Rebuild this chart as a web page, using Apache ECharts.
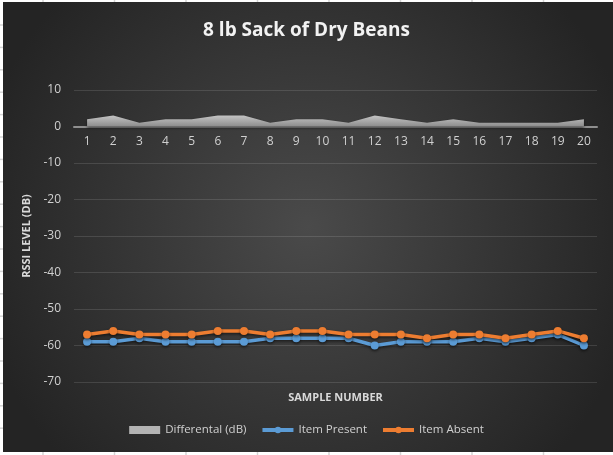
<!DOCTYPE html>
<html>
<head>
<meta charset="utf-8">
<script src="https://cdn.jsdelivr.net/npm/echarts@6/dist/echarts.min.js"></script>
<style>
  html, body { margin: 0; padding: 0; background: #ffffff; }
  #chart { width: 613px; height: 455px; }
</style>
</head>
<body>
<div id="chart"></div>
<script>
// Sample numbers along the x axis
const samples = ['1','2','3','4','5','6','7','8','9','10','11','12','13','14','15','16','17','18','19','20'];
// RSSI readings (dB) with the item present / absent
const itemPresent = [-59,-59,-58,-59,-59,-59,-59,-58,-58,-58,-58,-60,-59,-59,-59,-58,-59,-58,-57,-60];
const itemAbsent  = [-57,-56,-57,-57,-57,-56,-56,-57,-56,-56,-57,-57,-57,-58,-57,-57,-58,-57,-56,-58];
// Difference between the two readings (dB)
const differential = [2,3,1,2,2,3,3,1,2,2,1,3,2,1,2,1,1,1,1,2];
// Value axis ticks
const yMin = -70, yMax = 10, yStep = 10;

const FONT = '"Open Sans", "Liberation Sans", sans-serif';
const W = 613, H = 455;
const GRID_TOP = 90, GRID_BOTTOM = 73;
const plotH = H - GRID_TOP - GRID_BOTTOM;
// distance from the bottom of the plot up to the zero line
const zeroLift = plotH * (0 - yMin) / (yMax - yMin);

// spreadsheet cell borders visible around the chart object
const cellLines = [];
const colX = [43, 114.5, 186, 257.5, 329, 400.5, 472, 543.5];
colX.forEach(x => {
  cellLines.push({ type: 'line', silent: true, shape: { x1: x, y1: 0, x2: x, y2: 2 }, style: { stroke: '#d4d4d4', lineWidth: 1.5 } });
  cellLines.push({ type: 'line', silent: true, shape: { x1: x, y1: 452, x2: x, y2: 455 }, style: { stroke: '#d4d4d4', lineWidth: 1.5 } });
});
for (let k = 0; k < 19; k++) {
  const y = 25 + k * 22.4;
  cellLines.push({ type: 'line', silent: true, shape: { x1: 0, y1: y, x2: 3, y2: y }, style: { stroke: '#d4d4d4', lineWidth: 1.5 } });
}

const shadow = { shadowBlur: 3, shadowColor: 'rgba(0,0,0,0.55)', shadowOffsetY: 1.5 };

const option = {
  backgroundColor: '#ffffff',
  animation: false,
  graphic: [
    {
      type: 'rect', silent: true, z: -10,
      shape: { x: 3, y: 2, width: W - 3, height: 450 },
      style: {
        fill: {
          type: 'radial', x: 0.5, y: 0.5, r: 0.75,
          colorStops: [
            { offset: 0, color: '#4a4a4a' },
            { offset: 1, color: '#242424' }
          ]
        }
      }
    }
  ].concat(cellLines),
  title: {
    text: '8 lb Sack of Dry Beans',
    left: 'center',
    top: 16,
    textStyle: { color: '#f2f2f2', fontFamily: FONT, fontSize: 19, fontWeight: 'bold' }
  },
  legend: {
    bottom: 14,
    left: 'center',
    itemWidth: 31,
    itemHeight: 8,
    itemGap: 14,
    lineStyle: { width: 4 },
    textStyle: { color: '#d0d0d0', fontFamily: FONT, fontSize: 11.5 },
    data: [
      { name: 'Differental (dB)', icon: 'rect' },
      { name: 'Item Present' },
      { name: 'Item Absent' }
    ]
  },
  grid: { left: 74, right: 16, top: GRID_TOP, bottom: GRID_BOTTOM, containLabel: false, outerBoundsMode: 'none' },
  xAxis: {
    type: 'category',
    data: samples,
    boundaryGap: true,
    position: 'bottom',
    offset: -zeroLift,
    name: 'SAMPLE NUMBER',
    nameLocation: 'middle',
    nameGap: 266,
    nameTextStyle: { color: '#d9d9d9', fontFamily: FONT, fontSize: 11, fontWeight: 'bold' },
    axisLine: { onZero: false, lineStyle: { color: '#8f8f8f', width: 2 } },
    axisTick: { show: false },
    axisLabel: { color: '#d0d0d0', fontFamily: FONT, fontSize: 12, margin: 9 }
  },
  yAxis: {
    type: 'value',
    min: yMin, max: yMax, interval: yStep,
    name: 'RSSI LEVEL (DB)',
    nameLocation: 'middle',
    nameGap: 37,
    nameRotate: 90,
    nameTextStyle: { color: '#d9d9d9', fontFamily: FONT, fontSize: 11, fontWeight: 'bold' },
    axisLine: { show: false },
    axisTick: { show: false },
    axisLabel: { color: '#d0d0d0', fontFamily: FONT, fontSize: 12, margin: 13 },
    splitLine: { lineStyle: { color: 'rgba(255,255,255,0.12)', width: 1 } }
  },
  series: [
    {
      name: 'Differental (dB)',
      type: 'line',
      data: differential,
      symbol: 'none',
      lineStyle: { width: 0 },
      itemStyle: { color: '#b3b3b3' },
      areaStyle: Object.assign({
        color: {
          type: 'linear', x: 0, y: 0, x2: 0, y2: 1,
          colorStops: [
            { offset: 0, color: '#c4c4c4' },
            { offset: 1, color: '#8c8c8c' }
          ]
        },
        opacity: 1
      }, shadow),
      z: 2
    },
    {
      name: 'Item Present',
      type: 'line',
      data: itemPresent,
      symbol: 'circle',
      symbolSize: 8,
      itemStyle: Object.assign({ color: '#5b9bd5' }, shadow),
      lineStyle: Object.assign({ color: '#5b9bd5', width: 3.5 }, shadow),
      z: 3
    },
    {
      name: 'Item Absent',
      type: 'line',
      data: itemAbsent,
      symbol: 'circle',
      symbolSize: 8,
      itemStyle: Object.assign({ color: '#ed7d31' }, shadow),
      lineStyle: Object.assign({ color: '#ed7d31', width: 3.5 }, shadow),
      z: 4
    }
  ]
};

const chart = echarts.init(document.getElementById('chart'), null, { renderer: 'canvas' });
chart.setOption(option);
</script>
</body>
</html>
